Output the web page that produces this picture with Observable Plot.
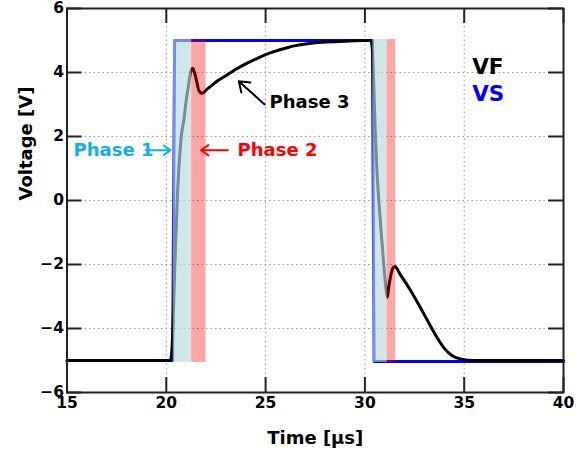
<!DOCTYPE html>
<html><head><meta charset="utf-8">
<script src="https://cdn.jsdelivr.net/npm/d3@7"></script>
<script src="https://cdn.jsdelivr.net/npm/@observablehq/plot@0.6"></script>
<style>body{margin:0;background:#fff}</style>
</head><body><div id="chart"></div>
<script>
// Time axis [µs] and voltages [V]
const tVF = [15, 20.2, 20.25, 20.33, 20.43, 20.55, 20.75, 20.88, 21.0, 21.12, 21.22, 21.33, 21.42, 21.52, 21.64, 21.8, 22.0, 22.3, 22.6, 23.0, 23.5, 24.0, 24.5, 25.0, 25.5, 26.0, 26.5, 27.0, 27.5, 28.0, 29.0, 30.0, 30.3, 30.38, 30.45, 30.52, 30.6, 30.7, 30.82, 30.95, 31.05, 31.13, 31.2, 31.3, 31.4, 31.5, 31.8, 32.3, 32.7, 33.15, 33.6, 34.0, 34.4, 34.8, 35.5, 40];
const vVF = [-5, -5, -4.9, -4.06, -2.03, 0, 1.98, 2.5, 3.12, 3.6, 4.0, 4.13, 4.0, 3.75, 3.44, 3.35, 3.45, 3.6, 3.75, 3.9, 4.1, 4.27, 4.42, 4.56, 4.67, 4.76, 4.84, 4.89, 4.93, 4.95, 4.98, 5.0, 5.0, 4.7, 3.5, 2.2, 1.0, 0, -1.0, -2.0, -2.7, -3.02, -2.7, -2.35, -2.12, -2.06, -2.33, -2.81, -3.24, -3.75, -4.25, -4.62, -4.85, -4.95, -5.0, -5.0];
const tVS = [15, 20.32, 20.42, 30.38, 30.46, 40];
const vVS = [-5, -5, 5, 5, -5.03, -5.03];

const xTicks = [15, 20, 25, 30, 35, 40];
const yTicks = [-6, -4, -2, 0, 2, 4, 6];

// shaded phase windows
const phaseStart = [20.35, 21.28, 30.4, 31.13];
const phaseEnd   = [21.28, 22.0, 31.13, 31.55];
const phaseKind  = ["p1", "p2", "p1", "p2"];
const phaseLow = -5.06, phaseHigh = 5.03;

// annotations
const labelText = ["Phase 1", "Phase 2", "Phase 3"];
const labelX = [15.33, 23.59, 25.2];
const labelY = [1.57, 1.57, 3.07];
const labelColor = ["#16aee8", "#ff0000", "#000000"];
const arrowX1 = [18.97, 23.1, 24.95];
const arrowY1 = [1.57, 1.57, 3.0];
const arrowX2 = [20.22, 21.75, 23.65];
const arrowY2 = [1.57, 1.57, 3.73];

const legendText = ["VF", "VS"];
const legendX = [35.4, 35.4];
const legendY = [4.17, 3.33];
const legendColor = ["#000000", "#0000ff"];

const vf = tVF.map((t, i) => ({t, v: vVF[i]}));
const vs = tVS.map((t, i) => ({t, v: vVS[i]}));
const phases = phaseStart.map((s, i) => ({x1: s, x2: phaseEnd[i], kind: phaseKind[i]}));
const labels = labelText.map((text, i) => ({text, x: labelX[i], y: labelY[i], c: labelColor[i]}));
const arrows = arrowX1.map((x1, i) => ({x1, y1: arrowY1[i], x2: arrowX2[i], y2: arrowY2[i], c: labelColor[i]}));
const legend = legendText.map((text, i) => ({text, x: legendX[i], y: legendY[i], c: legendColor[i]}));

const W = 587, H = 451, mL = 66.5, mR = 24, mT = 8, mB = 59;
const fw = W - mL - mR, fh = H - mT - mB, tick = 15;

const chart = Plot.plot({
  width: W, height: H,
  marginLeft: mL, marginRight: mR, marginTop: mT, marginBottom: mB,
  style: {fontFamily: "'DejaVu Sans', sans-serif", fontWeight: "bold", fontSize: "15px", background: "#fff", color: "#000", overflow: "visible"},
  x: {domain: [15, 40], label: null},
  y: {domain: [-6, 6], label: null},
  marks: [
    Plot.gridX(xTicks, {stroke: "#9a9a9a", strokeOpacity: 1, strokeDasharray: "1.5,3"}),
    Plot.gridY(yTicks, {stroke: "#9a9a9a", strokeOpacity: 1, strokeDasharray: "1.5,3"}),
    Plot.line(vs, {x: "t", y: "v", stroke: "#0000ff", strokeWidth: 3}),
    Plot.line(vf, {x: "t", y: "v", stroke: "#000000", strokeWidth: 3, curve: "monotone-x"}),
    Plot.rect(phases, {x1: "x1", x2: "x2", y1: phaseLow, y2: phaseHigh,
      fill: d => d.kind === "p1" ? "#b9d9dc" : "#ff0000",
      fillOpacity: d => d.kind === "p1" ? 0.65 : 0.35}),
    Plot.arrow(arrows, {x1: "x1", y1: "y1", x2: "x2", y2: "y2", stroke: d => d.c, strokeWidth: 2, headLength: 11, headAngle: 70}),
    Plot.text(labels, {x: "x", y: "y", text: "text", fill: d => d.c, textAnchor: "start", fontSize: 18, fontWeight: "bold"}),
    Plot.text(legend, {x: "x", y: "y", text: "text", fill: d => d.c, textAnchor: "start", fontSize: 21.5, fontWeight: "bold"}),
    Plot.frame({stroke: "#222", strokeWidth: 2}),
    Plot.tickX(xTicks, {x: d => d, insetTop: fh - tick, stroke: "#222", strokeWidth: 2}),
    Plot.tickX(xTicks, {x: d => d, insetBottom: fh - tick, stroke: "#222", strokeWidth: 2}),
    Plot.tickY(yTicks, {y: d => d, insetRight: fw - tick, stroke: "#222", strokeWidth: 2}),
    Plot.tickY(yTicks, {y: d => d, insetLeft: fw - tick, stroke: "#222", strokeWidth: 2}),
    Plot.axisX(xTicks, {tickSize: 0, tickPadding: 4, fontSize: 15.5, fontWeight: "bold", label: null}),
    Plot.axisY(yTicks, {tickSize: 0, tickPadding: 3, fontSize: 15.5, fontWeight: "bold", label: null}),
    Plot.text(["Time [μs]"], {text: d => d, frameAnchor: "bottom", dy: 46, fontSize: 18, fontWeight: "bold", lineAnchor: "middle"}),
    Plot.text(["Voltage [V]"], {text: d => d, frameAnchor: "left", dx: -41, rotate: -90, fontSize: 18, fontWeight: "bold", lineAnchor: "middle"})
  ]
});
document.getElementById("chart").appendChild(chart);
</script>
</body></html>
